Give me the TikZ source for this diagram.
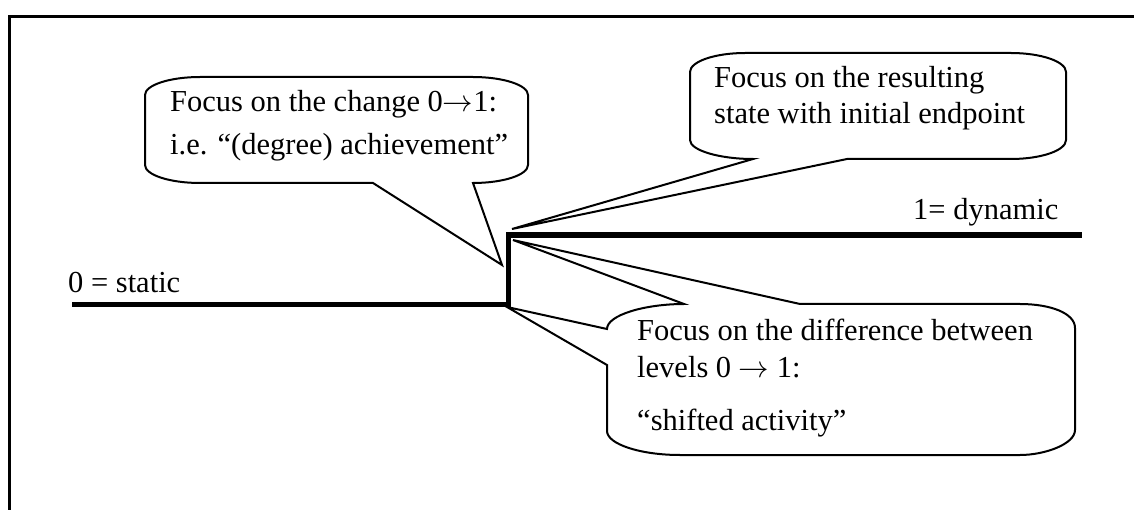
\RequirePackage{fix-cm}
\documentclass[tikz,border=0pt]{standalone}
\usepackage{fontspec}
\setmainfont{Liberation Serif}
\newcommand{\toarrow}{\hbox{$\rightarrow$}}
\begin{document}
\begin{tikzpicture}[x=1pt,y=-1pt,
  txt/.style={anchor=base west, inner sep=0pt, font=\fontsize{30.5}{36}\selectfont},
  bubble/.style={draw=black, line width=2pt, line join=miter},
  level/.style={draw=black, line width=5.5pt, line join=miter},
  frame/.style={draw=black, line width=3pt, line join=miter}]
\useasboundingbox (0,0) rectangle (1134,510);

% outer frame: only its top and left sides fall on the page
\coordinate (frameTR) at (1134,17);
\coordinate (frameTL) at (9,17);
\coordinate (frameBL) at (9,510);
\draw[frame] (frameTR) -- (frameTL) -- (frameBL);

% the two levels and the step between them
\coordinate (lowStart) at (72,304.5);
\coordinate (stepLow)  at (508.5,304.5);
\coordinate (stepHigh) at (508.5,235);
\coordinate (highEnd)  at (1082,235);
\draw[level] (lowStart) -- (stepLow) -- (stepHigh) -- (highEnd);

% tips of the callout wedges
\coordinate (tipChange) at (502,265);
\coordinate (tipResult) at (512,229);
\coordinate (tipDiffA)  at (513,240);
\coordinate (tipDiffB)  at (507,307);

% callout: change 0 -> 1
\draw[bubble] (200,77) -- (473,77)
  .. controls (503,77) and (528,85) .. (528,95) -- (528,165)
  .. controls (528,175) and (503,183) .. (473,183)
  -- (tipChange) -- (373,183) -- (200,183)
  .. controls (170,183) and (145,175) .. (145,165) -- (145,95)
  .. controls (145,85) and (170,77) .. (200,77) -- cycle;

% callout: resulting state
\draw[bubble] (745,53) -- (1011,53)
  .. controls (1041,53) and (1066,61.5) .. (1066,72) -- (1066,140)
  .. controls (1066,150.5) and (1041,159) .. (1011,159) -- (847,159)
  -- (tipResult) -- (753,159)
  .. controls (720,159) and (690,150.5) .. (690,140) -- (690,72)
  .. controls (690,61.5) and (715,53) .. (745,53) -- cycle;

% callout: difference between levels (two wedges)
\draw[bubble] (684,304) -- (tipDiffA) -- (800,304) -- (1020,304)
  .. controls (1050,304) and (1075,313) .. (1075,328) -- (1075,430)
  .. controls (1075,444) and (1045,455) .. (1020,455) -- (680,455)
  .. controls (640,455) and (607,444) .. (607,431) -- (607,365)
  -- (tipDiffB) -- (607,329)
  .. controls (607,315) and (645,304) .. (684,304) -- cycle;

% texts
\node[txt] (static)  at (68,293)  {0 = static};
\node[txt] (dynamic) at (913,220) {1= dynamic};

\node[txt] (chA) at (170,112) {Focus on the change 0\toarrow1:};
\node[txt] (chB) at (170,155) {i.e. “(degree) achievement”};

\node[txt] (rsA) at (714,88)  {Focus on the resulting};
\node[txt] (rsB) at (714,124) {state with initial endpoint};

\node[txt] (dfA) at (637,341) {Focus on the difference between};
\node[txt] (dfB) at (637,377) {levels 0 \toarrow{} 1:};
\node[txt] (dfC) at (637,430) {“shifted activity”};
\end{tikzpicture}
\end{document}
